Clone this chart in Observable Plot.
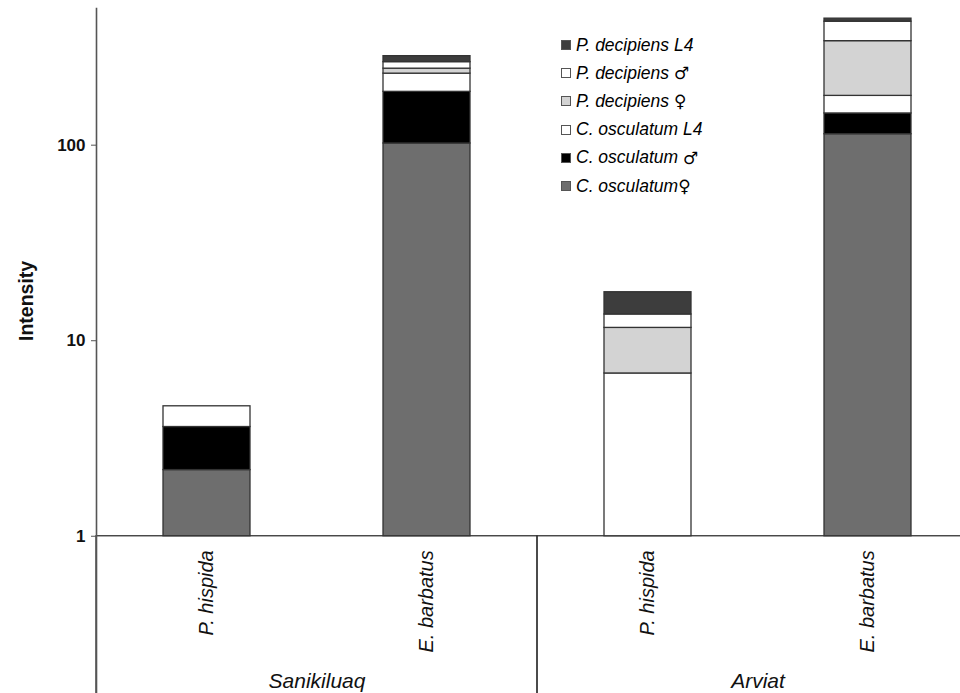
<!DOCTYPE html>
<html><head><meta charset="utf-8">
<script src="https://cdn.jsdelivr.net/npm/d3@7"></script>
<script src="https://cdn.jsdelivr.net/npm/@observablehq/plot@0.6"></script>
<style>
html,body{margin:0;padding:0;background:#fff;}
#wrap{position:relative;width:960px;height:693px;overflow:hidden;}
#legend{position:absolute;left:561px;top:31px;font-family:"Liberation Sans",Arial,sans-serif;font-size:17.5px;font-style:italic;color:#000;}
.row{height:28.2px;display:flex;align-items:center;white-space:pre;}
.sw{width:8px;height:8px;border:1px solid #555;margin-right:5px;flex:none;}
.sym{font-family:"DejaVu Sans",sans-serif;font-style:normal;font-size:17px;}
</style></head><body>
<div id="wrap"><div id="chart"></div><div id="legend"></div></div>
<script>
// categories
const sites = ["Sanikiluaq", "Sanikiluaq", "Arviat", "Arviat"];
const hosts = ["P. hispida", "E. barbatus", "P. hispida", "E. barbatus"];
const siteOrder = ["Sanikiluaq", "Arviat"];
const hostOrder = ["P. hispida", "E. barbatus"];
// series (stack order, bottom to top)
const seriesNames = ["C. osculatum ♀", "C. osculatum ♂", "C. osculatum L4", "P. decipiens ♀", "P. decipiens ♂", "P. decipiens L4"];
const legendNames = ["C. osculatum", "C. osculatum ", "C. osculatum L4", "P. decipiens ", "P. decipiens ", "P. decipiens L4"];
const legendSymbols = ["♀", "♂", "", "♀", "♂", ""];
const seriesColors = ["#6e6e6e", "#000000", "#ffffff", "#d3d3d3", "#ffffff", "#3d3d3d"];
// mean intensity per segment, one value per category
const cOsculatumFemale = [2.18, 102, 0, 113.8];
const cOsculatumMale = [1.44, 85.4, 0, 31.5];
const cOsculatumL4 = [1.0, 44.8, 6.8, 33.4];
const pDecipiensFemale = [0, 14.0, 4.83, 161.7];
const pDecipiensMale = [0, 19.7, 1.99, 87.6];
const pDecipiensL4 = [0, 19.4, 4.08, 15.7];
// axis
const yTicks = [1, 10, 100];
const yDomain = [0.157, 500];

const seriesValues = [cOsculatumFemale, cOsculatumMale, cOsculatumL4, pDecipiensFemale, pDecipiensMale, pDecipiensL4];
const rows = [];
sites.forEach((site, i) => {
  let cum = 0;
  seriesNames.forEach((s, k) => {
    const v = seriesValues[k][i];
    if (v > 0) {
      rows.push({site, host: hosts[i], series: s, y1: cum === 0 ? 1 : cum, y2: cum + v});
      cum += v;
    }
  });
});
const cats = sites.map((site, i) => ({site, host: hosts[i]}));

const font = "'Liberation Sans', Arial, sans-serif";
const chart = Plot.plot({
  width: 978, height: 693,
  marginLeft: 96, marginRight: 0, marginTop: 8, marginBottom: 0,
  style: {fontFamily: font, background: "#fff", color: "#111", maxWidth: "none", overflow: "visible"},
  fx: {domain: siteOrder, padding: 0, axis: null},
  x: {domain: hostOrder, paddingInner: 0.6054, paddingOuter: 0.3027, axis: null},
  y: {type: "log", domain: yDomain},
  color: {domain: seriesNames, range: seriesColors},
  marks: [
    Plot.rect(siteOrder, {fx: d => d, y1: yDomain[0], y2: 1, fill: "none", stroke: "#333", strokeWidth: 1.3, insetBottom: -4}),
    Plot.barY(rows, {fx: "site", x: "host", y1: "y1", y2: "y2", fill: "series", stroke: "#333", strokeWidth: 1.3}),
    Plot.frame({anchor: "left", facetAnchor: "left", stroke: "#555", strokeWidth: 1.6}),
    Plot.axisY(yTicks, {tickSize: 5, tickPadding: 6, fontSize: 17, fontWeight: "bold", tickFormat: d => String(d), label: null, stroke: "#555", fill: "#111"}),
    Plot.text([{site: "Sanikiluaq"}], {fx: "site", text: () => "Intensity", frameAnchor: "left", dx: -70, dy: -10, rotate: -90, fontWeight: "bold", fontSize: 19.5, fill: "#111"}),
    Plot.text(cats, {fx: "site", x: "host", y: 1, text: "host", rotate: -90, textAnchor: "end", dy: 14, fontSize: 20, fontStyle: "italic", fill: "#111"}),
    Plot.text(siteOrder, {fx: d => d, text: d => d, frameAnchor: "bottom", lineAnchor: "bottom", dy: -6, fontSize: 21, fontStyle: "italic", fill: "#111"})
  ]
});
document.getElementById("chart").appendChild(chart);

const legend = document.getElementById("legend");
for (let k = seriesNames.length - 1; k >= 0; k--) {
  const row = document.createElement("div");
  row.className = "row";
  const sw = document.createElement("span");
  sw.className = "sw";
  sw.style.background = seriesColors[k];
  const t = document.createElement("span");
  t.textContent = legendNames[k];
  row.appendChild(sw); row.appendChild(t);
  if (legendSymbols[k]) {
    const sy = document.createElement("span");
    sy.className = "sym";
    sy.textContent = legendSymbols[k];
    row.appendChild(sy);
  }
  legend.appendChild(row);
}
</script>
</body></html>
